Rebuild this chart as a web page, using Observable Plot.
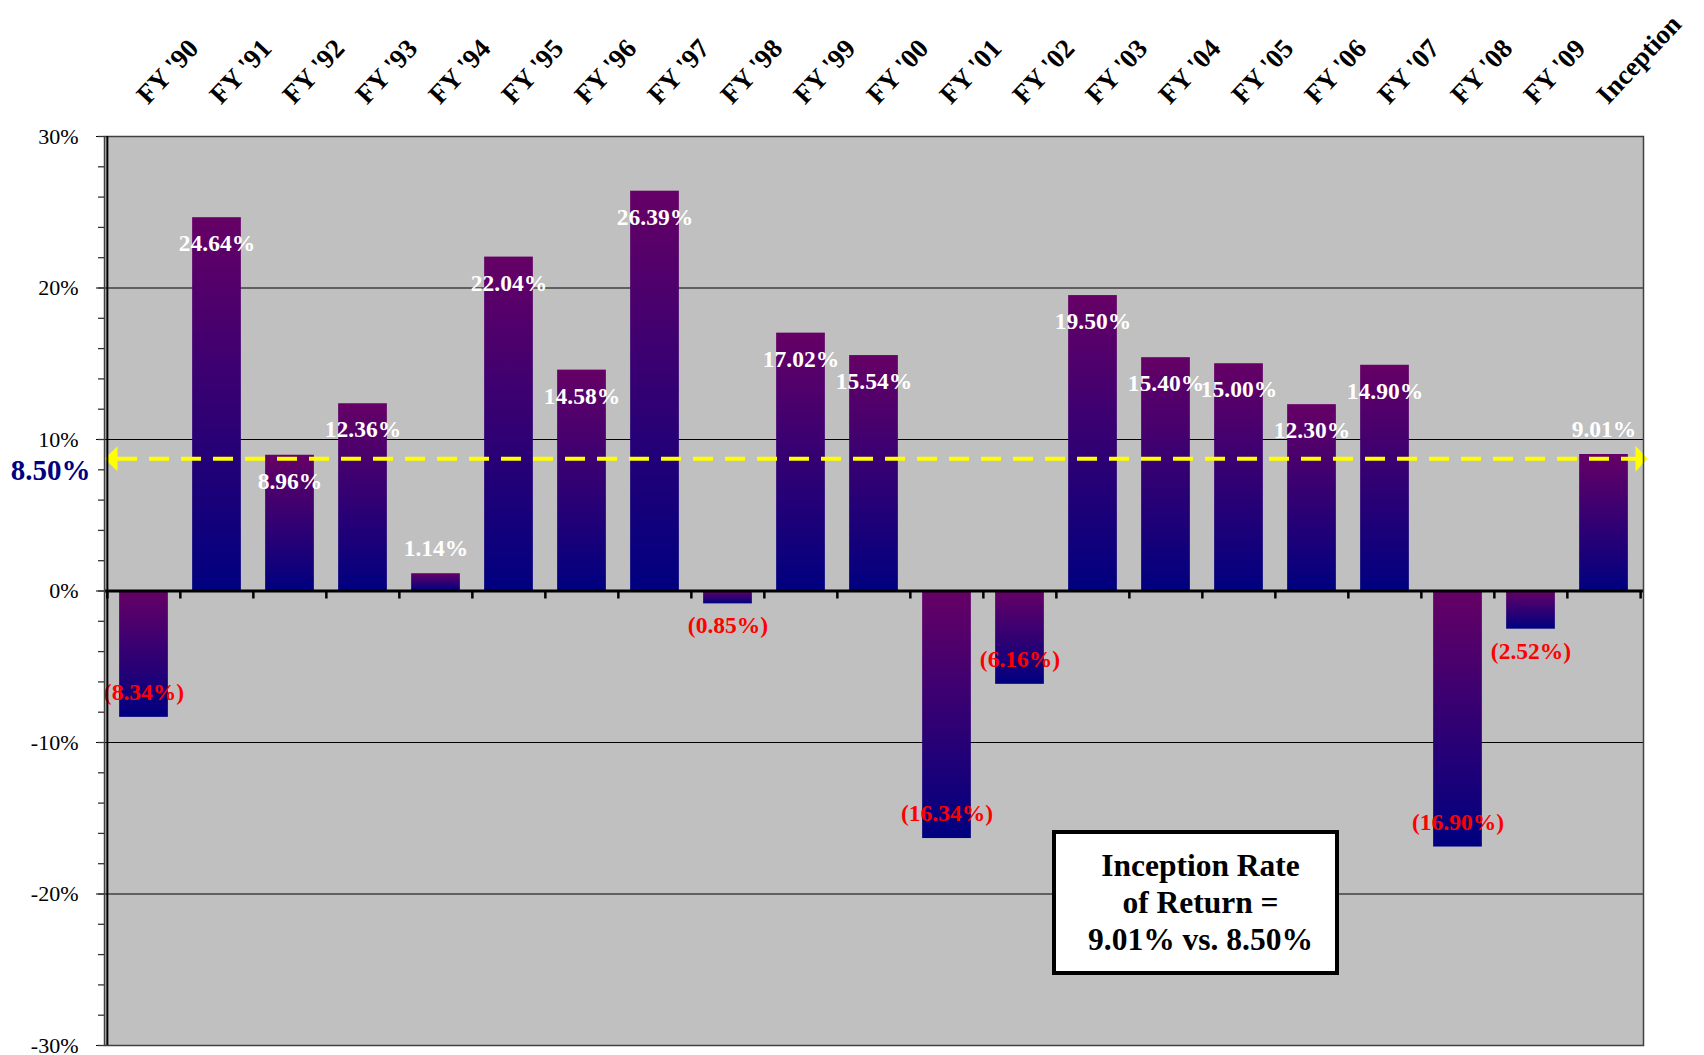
<!DOCTYPE html>
<html>
<head>
<meta charset="utf-8">
<script src="https://cdn.jsdelivr.net/npm/d3@7"></script>
<script src="https://cdn.jsdelivr.net/npm/@observablehq/plot@0.6"></script>
<style>
  body { margin: 0; background: #fff; }
  #wrap { position: relative; width: 1704px; height: 1055px; }
  #note {
    position: absolute; left: 1052px; top: 830px; width: 287px; height: 145px;
    box-sizing: border-box; border: 4px solid #000; background: #fff;
    display: flex; align-items: center; justify-content: center; text-align: center;
    font: bold 31.5px "Liberation Serif", "Times New Roman", Times, serif; line-height: 37px;
    padding-left: 10px; color: #000;
  }
</style>
</head>
<body>
<div id="wrap"><div id="note">Inception Rate<br>of Return =<br>9.01% vs. 8.50%</div></div>
<script>
// ---- data ----
const categories = ["FY '90","FY '91","FY '92","FY '93","FY '94","FY '95","FY '96","FY '97","FY '98","FY '99","FY '00",
                    "FY '01","FY '02","FY '03","FY '04","FY '05","FY '06","FY '07","FY '08","FY '09","Inception"];
const returns = [-8.34, 24.64, 8.96, 12.36, 1.14, 22.04, 14.58, 26.39, -0.85, 17.02, 15.54,
                 -16.34, -6.16, 19.50, 15.40, 15.00, 12.30, 14.90, -16.90, -2.52, 9.01];
const benchmark = 8.5;
const majorTicks = [-30, -20, -10, 0, 10, 20, 30];
const minorTicks = d3.range(-30, 31, 2);
const gridLines = [-20, -10, 10, 20];
const outsideLabels = ["FY '94", "FY '98", "FY '09", "Inception"];

const data = categories.map((c, i) => ({
  cat: c,
  value: returns[i],
  label: returns[i] < 0 ? `(${Math.abs(returns[i]).toFixed(2)}%)` : `${returns[i].toFixed(2)}%`,
  outside: outsideLabels.includes(c)
}));

// ---- layout ----
const W = 1704, H = 1055, mL = 104, mR = 61, mT = 136, mB = 10;
const step = (W - mL - mR) / categories.length;
const barW = 49;
const inset = (step - barW) / 2;
const serif = '"Liberation Serif", "Times New Roman", Times, serif';

const arrowLeft = { draw(ctx) { ctx.moveTo(0, 0); ctx.lineTo(13, -12.5); ctx.lineTo(13, 12.5); ctx.closePath(); } };
const arrowRight = { draw(ctx) { ctx.moveTo(4, 0); ctx.lineTo(-8, -13); ctx.lineTo(-8, 13); ctx.closePath(); } };

const txt = { fontWeight: "bold", fontSize: 23.5, lineAnchor: "middle" };

const plot = Plot.plot({
  width: W, height: H,
  marginLeft: mL, marginRight: mR, marginTop: mT, marginBottom: mB,
  style: { fontFamily: serif, fontSize: "22px", color: "#000", background: "transparent", overflow: "visible" },
  x: { domain: categories, padding: 0, axis: null },
  y: { domain: [-30, 30], ticks: majorTicks, tickSize: 8, tickPadding: 18, tickFormat: d => `${d}%`, label: null },
  marks: [
    Plot.frame({ fill: "#c0c0c0" }),
    Plot.ruleY(gridLines, { stroke: "#000", strokeWidth: 1 }),
    // minor ticks on y
    Plot.ruleY(minorTicks, { stroke: "#333", strokeWidth: 1.3, insetLeft: -6, insetRight: W - mL - mR }),
    Plot.barY(data, { x: "cat", y: "value", fill: "url(#barGrad)", insetLeft: inset, insetRight: inset }),
    // zero line and category ticks
    Plot.ruleY([0], { stroke: "#000", strokeWidth: 3 }),
    Plot.ruleX(categories, { x: d => d, y1: () => 0, y2: () => 0, dx: -step / 2, insetBottom: -8, stroke: "#000", strokeWidth: 2.5 }),
    Plot.ruleX(categories.slice(-1), { x: d => d, y1: () => 0, y2: () => 0, dx: step / 2, insetBottom: -8, stroke: "#000", strokeWidth: 2.5 }),
    // benchmark line (hand-drawn in the original, sits slightly above 8.5%)
    Plot.ruleY([benchmark], { stroke: "#ffff00", strokeWidth: 4, strokeDasharray: "20,12", insetLeft: 13, dy: -3.5 }),
    Plot.dot([benchmark], { y: d => d, frameAnchor: "left", symbol: arrowLeft, r: 5, fill: "#ffff00", dy: -3.5 }),
    Plot.dot([benchmark], { y: d => d, frameAnchor: "right", symbol: arrowRight, r: 5, fill: "#ffff00", dy: -3.5 }),
    Plot.text([benchmark], { y: d => d, text: d => `${d.toFixed(2)}%`, frameAnchor: "left", textAnchor: "end",
      dx: -14, dy: 8, fill: "#000080", fontSize: 29, fontWeight: "bold", lineAnchor: "middle" }),
    // value labels
    Plot.text(data.filter(d => d.value >= 0 && !d.outside), { x: "cat", y: "value", text: "label", dy: 26, fill: "#ffffff", ...txt }),
    Plot.text(data.filter(d => d.value >= 0 && d.outside), { x: "cat", y: "value", text: "label", dy: -25, fill: "#ffffff", ...txt }),
    Plot.text(data.filter(d => d.value < 0 && !d.outside), { x: "cat", y: "value", text: "label", dy: -25, fill: "#ff0000", ...txt }),
    Plot.text(data.filter(d => d.value < 0 && d.outside), { x: "cat", y: "value", text: "label", dy: 22, fill: "#ff0000", ...txt }),
    // category labels on top
    Plot.text(categories, { x: d => d, text: d => d, frameAnchor: "top", rotate: -47, textAnchor: "start",
      lineAnchor: "bottom", dx: 4, dy: -31, fontSize: 27, fontWeight: "bold", fill: "#000" }),
    // frame borders
    Plot.frame({ stroke: "#404040", strokeWidth: 1.5 }),
    Plot.ruleX(categories.slice(0, 1), { x: d => d, dx: -step / 2, stroke: "#000", strokeWidth: 2 })
  ]
});

const defs = d3.select(plot).insert("defs", ":first-child");
const grad = defs.append("linearGradient").attr("id", "barGrad")
  .attr("x1", 0).attr("y1", 0).attr("x2", 0).attr("y2", 1);
grad.append("stop").attr("offset", "0%").attr("stop-color", "#660066");
grad.append("stop").attr("offset", "100%").attr("stop-color", "#000080");

document.getElementById("wrap").prepend(plot);
</script>
</body>
</html>
